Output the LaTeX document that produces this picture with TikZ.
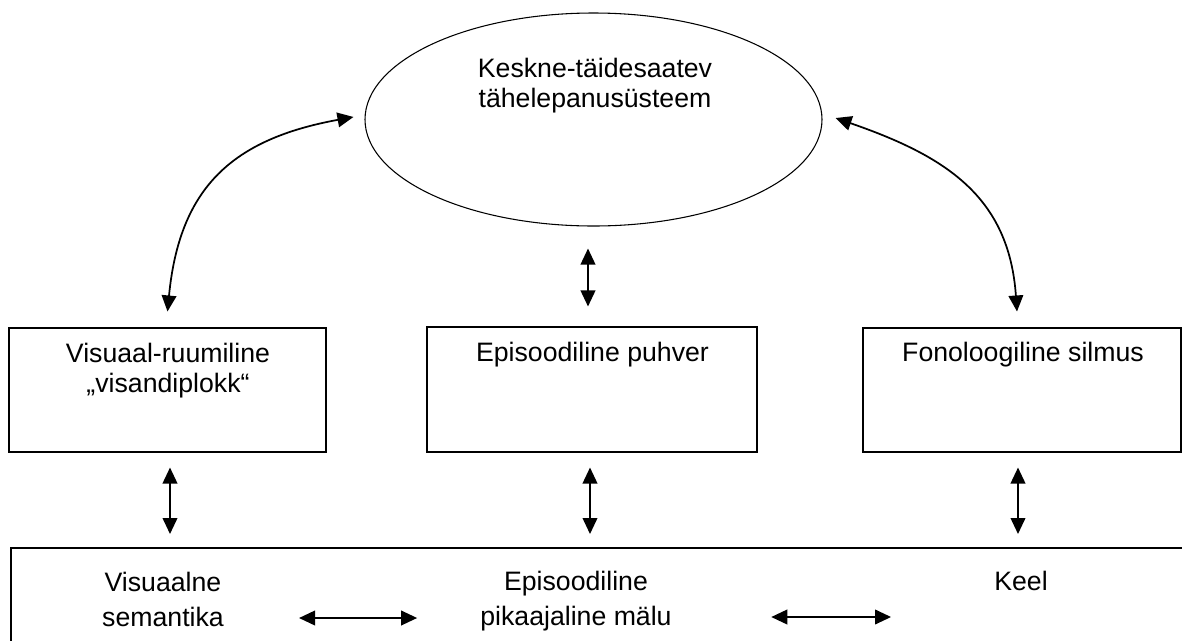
\documentclass[tikz,border=0pt]{standalone}
\usepackage{fontspec}
\setmainfont{Liberation Sans}
\usetikzlibrary{arrows.meta,shapes.geometric,calc}
\begin{document}
\begin{tikzpicture}[x=0.75pt,y=-0.75pt,
  box/.style={draw,line width=0.8pt,rectangle,inner sep=0pt},
  txt/.style={inner sep=0pt,align=center,font=\fontsize{20}{22.5}\selectfont},
  txtb/.style={inner sep=0pt,align=center,font=\fontsize{20}{26.25}\selectfont},
  arr/.style={line width=1.3pt,{Triangle[length=12pt,width=11pt]}-{Triangle[length=12pt,width=11pt]}}]
\useasboundingbox (0,0) rectangle (1182,640);
% central executive
\node[ellipse,draw,line width=0.8pt,minimum width=342.75pt,minimum height=159.75pt,inner sep=0pt] (ell) at (593.5,119.5) {};
\node[txt] (ellt) at (595,86) {Keskne-täidesaatev\\tähelepanusüsteem};
% three boxes
\node[box,minimum width=237.75pt,minimum height=93pt] (lbox) at (167.5,390) {};
\node[txt] (lboxt) at (168,371) {Visuaal-ruumiline\\„visandiplokk“};
\node[box,minimum width=247.5pt,minimum height=93.75pt] (mbox) at (592,389.5) {};
\node[txt] (mboxt) at (592.5,355) {Episoodiline puhver};
\node[box,minimum width=238.5pt,minimum height=93pt] (rbox) at (1022,390) {};
\node[txt] (rboxt) at (1023,355) {Fonoloogiline silmus};
% long-term memory box (runs past the right and bottom edges of the picture)
\node[box,draw=none,anchor=north west,minimum width=1100pt,minimum height=150pt] (ltm) at (11,548) {};
\draw[line width=0.8pt] (ltm.south west) -- (ltm.north west) -- (ltm.north east);
\node[txtb] (vs) at (163,599) {Visuaalne\\semantika};
\node[txtb] (ep) at (576,601.5) {Episoodiline\\pikaajaline mälu};
\node[txt] (keel) at (1021,581) {Keel};
% curved arrows
\draw[arr] ([yshift=12pt]lbox.north) .. controls +(12,-125) and +(-120,22) .. ([xshift=-8.25pt,yshift=1.9pt]ell.west);
\draw[arr] ([xshift=-3.75pt,yshift=12pt]rbox.north) .. controls +(-8,-115) and +(110,38) .. ([xshift=9.75pt,yshift=1.1pt]ell.east);
% middle vertical arrow
\draw[arr] ($(ell.south)+(-5.5,22)$) -- ($(mbox.north)+(-4,-20)$);
% lower vertical arrows
\draw[arr] ($(lbox.south)+(2.5,15)$) -- ($(lbox.south |- ltm.north)+(2.5,-14)$);
\draw[arr] ($(mbox.south)+(-2,15)$) -- ($(mbox.south |- ltm.north)+(-2,-14)$);
\draw[arr] ($(rbox.south)+(-4,15)$) -- ($(rbox.south |- ltm.north)+(-4,-14)$);
% horizontal arrows
\draw[arr] ($(vs.east)+(75,19)$) -- ($(ep.west)+(-63,16.5)$);
\draw[arr] ($(ep.east)+(99.4,15.5)$) -- ($(keel.west)+(-103,36)$);
\end{tikzpicture}
\end{document}
